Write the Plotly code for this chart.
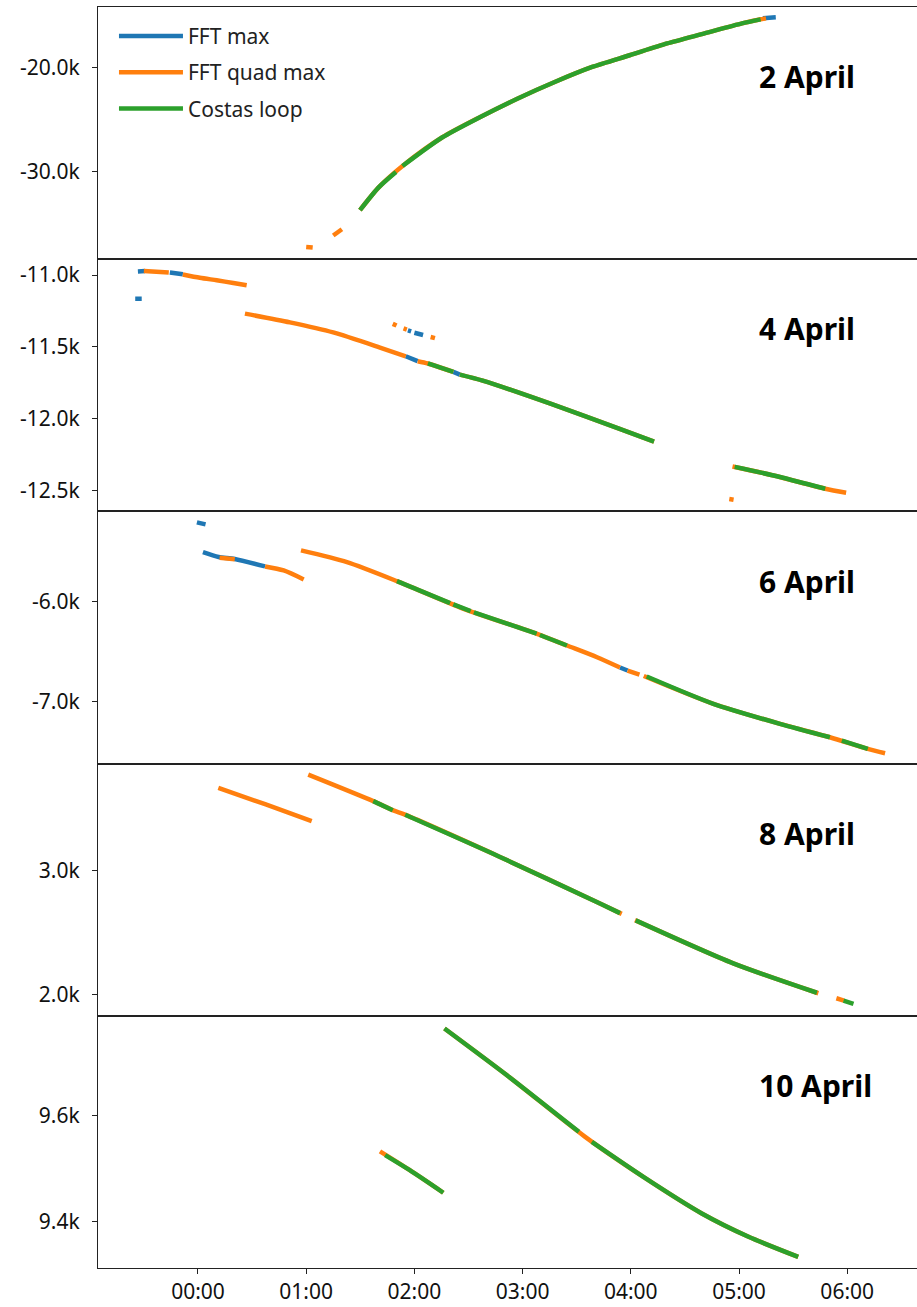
import plotly.graph_objects as go
from plotly.subplots import make_subplots

# ---------------- data ----------------
SERIES = ["FFT max", "FFT quad max", "Costas loop"]
COLORS = ["#1f77b4", "#ff7f0e", "#2ca02c"]
DATES = ["2 April", "4 April", "6 April", "8 April", "10 April"]

X_TICK_VALS = [0, 1, 2, 3, 4, 5, 6]
X_TICK_TEXT = ["00:00", "01:00", "02:00", "03:00", "04:00", "05:00", "06:00"]

# time in hours after 00:00, frequency in kHz; None separates segments
# --- 2 April ---
P1_MAX_T = [5.22, 5.34]
P1_MAX_Y = [-15.30, -15.22]
P1_QUAD_T = [1.00, 1.06, None, 1.25, 1.33, None,
             1.497, 1.67, 1.913, 2.259, 2.605, 2.951, 3.297, 3.643, 3.989, 4.335, 4.681, 5.028, 5.20, 5.25]
P1_QUAD_Y = [-37.2, -37.25, None, -36.1, -35.5, None,
             -33.68, -31.5, -29.26, -26.70, -24.78, -23.01, -21.41, -19.97, -18.85, -17.72, -16.76, -15.80, -15.41, -15.32]
P1_COST_T = [1.497, 1.67, 1.83, None, 1.89, 2.259, 2.605, 2.951, 3.297, 3.643, 3.989, 4.335, 4.681, 5.028, 5.20]
P1_COST_Y = [-33.68, -31.5, -30.03, None, -29.45, -26.70, -24.78, -23.01, -21.41, -19.97, -18.85, -17.72, -16.76, -15.80, -15.41]

# --- 4 April ---
P2_MAX_T = [-0.58, -0.52, None, -0.555, -0.49, None, -0.26, -0.14, None,
            1.94, 1.97, None, 2.00, 2.08, None, 1.92, 2.03, None, 2.36, 2.42]
P2_MAX_Y = [-11.165, -11.165, None, -10.975, -10.972, None, -10.982, -10.995, None,
            -11.385, -11.392, None, -11.402, -11.418, None, -11.566, -11.60, None, -11.675, -11.694]
P2_QUAD_T = [-0.50, -0.27, None, -0.14, 0.018, 0.173, 0.327, 0.45, None,
             0.434, 0.85, 1.25, 1.682, 1.92, None, 2.03, 2.125, 2.36, None,
             2.42, 2.631, 3.264, 3.897, 4.215, None,
             1.80, 1.835, None, 1.90, 1.93, None, 2.15, 2.19, None,
             4.91, 4.95, None, 4.94, 5.32, 5.797, 5.99]
P2_QUAD_Y = [-10.972, -10.983, None, -10.996, -11.019, -11.037, -11.056, -11.072, None,
             -11.269, -11.33, -11.40, -11.505, -11.566, None, -11.60, -11.616, -11.675, None,
             -11.694, -11.736, -11.898, -12.072, -12.16, None,
             -11.34, -11.352, None, -11.372, -11.38, None, -11.432, -11.44, None,
             -12.56, -12.565, None, -12.333, -12.396, -12.488, -12.516]
P2_COST_T = [2.125, 2.36, None, 2.42, 2.631, 3.264, 3.897, 4.215, None, 4.96, 5.32, 5.797]
P2_COST_Y = [-11.616, -11.675, None, -11.694, -11.736, -11.898, -12.072, -12.16, None, -12.336, -12.396, -12.488]

# --- 6 April ---
P3_MAX_T = [-0.01, 0.07, None, 0.046, 0.19, 0.34, 0.62, None, 3.90, 3.97]
P3_MAX_Y = [-5.21, -5.23, None, -5.507, -5.555, -5.575, -5.65, None, -6.66, -6.69]
P3_QUAD_T = [0.20, 0.34, None, 0.62, 0.792, 0.977, None,
             0.952, 1.377, 1.839, 2.455, 3.133, 3.41, 3.688, 3.90, None,
             3.97, 4.08, None, 4.12, 4.763, 5.379, 5.84, 6.19, 6.35]
P3_QUAD_Y = [-5.562, -5.577, None, -5.65, -5.69, -5.78, None,
             -5.49, -5.607, -5.797, -6.073, -6.323, -6.44, -6.557, -6.66, None,
             -6.69, -6.73, None, -6.745, -7.023, -7.223, -7.357, -7.473, -7.517]
P3_COST_T = [1.839, 2.33, None, 2.36, 2.52, None, 2.55, 3.13, None, 3.16, 3.41, None,
             4.147, 4.763, 5.379, 5.84, None, 5.95, 6.19]
P3_COST_Y = [-5.797, -6.017, None, -6.030, -6.097, None, -6.108, -6.322, None, -6.335, -6.44, None,
             -6.75, -7.023, -7.223, -7.357, None, -7.39, -7.473]

# --- 8 April ---
P4_MAX_T = []
P4_MAX_Y = []
P4_QUAD_T = [0.188, 0.62, 1.051, None, 1.019, 1.62, 1.805, 1.913, 2.791, 3.715, 3.916, None,
             4.039, 4.947, 5.733, None, 5.90, 5.97]
P4_QUAD_Y = [3.662, 3.53, 3.395, None, 3.768, 3.555, 3.48, 3.446, 3.107, 2.733, 2.65, None,
             2.60, 2.253, 2.013, None, 1.973, 1.954]
P4_COST_T = [1.62, 1.80, None, 1.915, 2.791, 3.715, 3.90, None, 4.045, 4.947, 5.72, None, 5.966, 6.058]
P4_COST_Y = [3.555, 3.482, None, 3.445, 3.107, 2.733, 2.656, None, 2.598, 2.253, 2.017, None, 1.954, 1.928]

# --- 10 April ---
P5_MAX_T = []
P5_MAX_Y = []
P5_QUAD_T = [1.682, 1.954, 2.267, None, 2.278, 2.873, 3.575, 4.116, 4.656, 5.088, 5.547]
P5_QUAD_Y = [9.533, 9.498, 9.455, None, 9.765, 9.674, 9.561, 9.485, 9.416, 9.372, 9.334]
P5_COST_T = [1.73, 1.954, 2.267, None, 2.278, 2.873, 3.52, None, 3.64, 4.116, 4.656, 5.088, 5.547]
P5_COST_Y = [9.526, 9.498, 9.455, None, 9.765, 9.674, 9.570, None, 9.551, 9.485, 9.416, 9.372, 9.334]

# y tick values (kHz) and labels per panel
P1_YTICKS = [-30.0, -20.0]
P1_YLABELS = ["-30.0k", "-20.0k"]
P2_YTICKS = [-12.5, -12.0, -11.5, -11.0]
P2_YLABELS = ["-12.5k", "-12.0k", "-11.5k", "-11.0k"]
P3_YTICKS = [-7.0, -6.0]
P3_YLABELS = ["-7.0k", "-6.0k"]
P4_YTICKS = [2.0, 3.0]
P4_YLABELS = ["2.0k", "3.0k"]
P5_YTICKS = [9.4, 9.6]
P5_YLABELS = ["9.4k", "9.6k"]

# ---------------- figure ----------------
panels = [
    [(P1_MAX_T, P1_MAX_Y), (P1_QUAD_T, P1_QUAD_Y), (P1_COST_T, P1_COST_Y)],
    [(P2_MAX_T, P2_MAX_Y), (P2_QUAD_T, P2_QUAD_Y), (P2_COST_T, P2_COST_Y)],
    [(P3_MAX_T, P3_MAX_Y), (P3_QUAD_T, P3_QUAD_Y), (P3_COST_T, P3_COST_Y)],
    [(P4_MAX_T, P4_MAX_Y), (P4_QUAD_T, P4_QUAD_Y), (P4_COST_T, P4_COST_Y)],
    [(P5_MAX_T, P5_MAX_Y), (P5_QUAD_T, P5_QUAD_Y), (P5_COST_T, P5_COST_Y)],
]
yticks = [(P1_YTICKS, P1_YLABELS), (P2_YTICKS, P2_YLABELS), (P3_YTICKS, P3_YLABELS),
          (P4_YTICKS, P4_YLABELS), (P5_YTICKS, P5_YLABELS)]
yranges = [[-38.37, -14.23], [-12.646, -10.89], [-7.62, -5.10], [1.832, 3.856], [9.313, 9.789]]

FONT = "Noto Sans"
AXC = "#222222"

fig = make_subplots(rows=5, cols=1, shared_xaxes=True, vertical_spacing=0)

for i, panel in enumerate(panels):
    for j, (t, y) in enumerate(panel):
        fig.add_trace(go.Scatter(
            x=t, y=y, mode="lines",
            line=dict(color=COLORS[j], width=4.5, shape="spline", smoothing=0.7),
            name=SERIES[j], legendgroup=SERIES[j], showlegend=(i == 0),
            connectgaps=False, hoverinfo="x+y+name",
        ), row=i + 1, col=1)

for i in range(5):
    r = i + 1
    last = (r == 5)
    fig.update_xaxes(
        row=r, col=1, range=[-0.924, 6.645], automargin=False,
        showline=True, linecolor=AXC, linewidth=1.3, mirror=True,
        showgrid=False, zeroline=False,
        tickvals=X_TICK_VALS, ticktext=X_TICK_TEXT,
        ticks="outside" if last else "", ticklen=5, tickwidth=1.2, tickcolor=AXC,
        showticklabels=last,
        tickfont=dict(family=FONT, size=21, color="#111"),
    )
    tv, tt = yticks[i]
    fig.update_yaxes(
        row=r, col=1, range=yranges[i], automargin=False,
        showline=True, linecolor=AXC, linewidth=1.3, mirror=False,
        showgrid=False, zeroline=False,
        tickvals=tv, ticktext=tt,
        ticks="outside", ticklen=5, tickwidth=1.2, tickcolor=AXC,
        ticklabelstandoff=8,
        tickfont=dict(family=FONT, size=21, color="#111"),
    )
    xref = "x domain" if r == 1 else f"x{r} domain"
    yref = "y domain" if r == 1 else f"y{r} domain"
    fig.add_annotation(
        text=f"<b>{DATES[i]}</b>", xref=xref, yref=yref,
        x=0.8046, y=0.724, xanchor="left", yanchor="middle", showarrow=False,
        font=dict(family=FONT, size=30, color="#000"),
    )

fig.update_layout(
    width=917, height=1307,
    margin=dict(l=98, r=0, t=7, b=39),
    paper_bgcolor="white", plot_bgcolor="white",
    font=dict(family=FONT, size=21, color="#111"),
    legend=dict(
        x=0.0195, y=0.993, xanchor="left", yanchor="top",
        bgcolor="rgba(255,255,255,0)", borderwidth=0,
        font=dict(family=FONT, size=21, color="#222"),
        tracegroupgap=6, itemwidth=64,
    ),
    showlegend=True,
)

# remove the default 8px page margin so the figure fills the window exactly
fig.write_html("out.html", config={"displayModeBar": False},
               post_script="document.body.style.margin='0px';")
